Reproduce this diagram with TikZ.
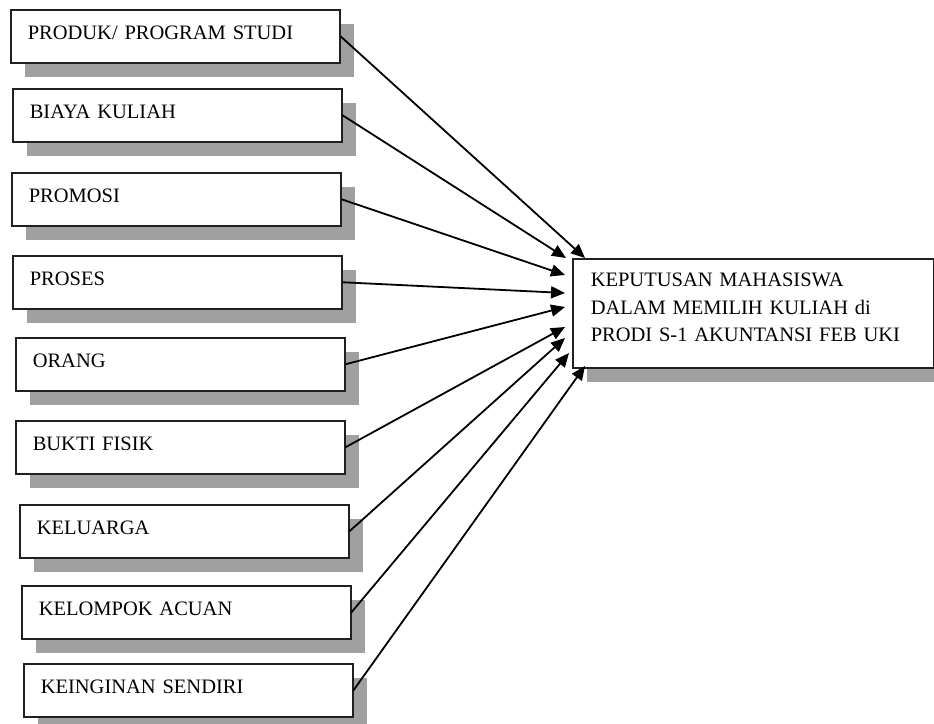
\documentclass[tikz,border=0pt]{standalone}
\usepackage{fontspec}
\setmainfont{Liberation Serif}
\usetikzlibrary{shadows,arrows.meta,calc}
\definecolor{shadowgray}{HTML}{A0A0A0}
\definecolor{edgecol}{HTML}{202020}
\tikzset{
  shad/.style={drop shadow={shadow xshift=14pt, shadow yshift=-14pt, fill=shadowgray, opacity=1}},
  factor/.style={draw=edgecol, line width=1.5pt, fill=white, shad, anchor=north west,
    minimum width=329pt, minimum height=53pt, text width=295pt, inner xsep=17pt, inner ysep=0pt,
    align=left, text height=13.5pt, text depth=8pt, font=\fontsize{20.5pt}{24pt}\selectfont},
  result/.style={draw=edgecol, line width=1.5pt, fill=white, shad, anchor=north west,
    minimum width=361pt, text width=325pt, inner xsep=18pt, inner ysep=0pt,
    align=left, text height=28pt, text depth=81pt, font=\fontsize{20.5pt}{27.5pt}\selectfont},
  conn/.style={line width=1.8pt, -{Triangle[length=14pt,width=12pt]}}
}
\begin{document}
\begin{tikzpicture}[x=1pt,y=-1pt]
\useasboundingbox (0,0) rectangle (934,723);
\clip (0,0) rectangle (934,723);
\node[factor] (f1) at (10,9) {PRODUK/ PROGRAM STUDI};
\node[factor] (f2) at (12,88) {BIAYA KULIAH};
\node[factor] (f3) at (11,172) {PROMOSI};
\node[factor] (f4) at (12,255) {PROSES};
\node[factor] (f5) at (15,337) {ORANG};
\node[factor] (f6) at (15,420) {BUKTI FISIK};
\node[factor] (f7) at (19,504) {KELUARGA};
\node[factor] (f8) at (21,585) {KELOMPOK ACUAN};
\node[factor] (f9) at (23,663) {KEINGINAN SENDIRI};
\node[result] (k) at (572,258) {KEPUTUSAN MAHASISWA\\DALAM MEMILIH KULIAH di\\PRODI S-1 AKUNTANSI FEB UKI};
\coordinate (t1) at (585,258);
\coordinate (t2) at (566,258);
\coordinate (t3) at (565,275);
\coordinate (t4) at (565,293);
\coordinate (t5) at (565,307);
\coordinate (t6) at (565,327);
\coordinate (t7) at (565,338);
\coordinate (t8) at (569,353);
\coordinate (t9) at (585,366);
\foreach \i in {1,...,9}{
  \draw[conn] (f\i.east) -- (t\i);
}
\end{tikzpicture}
\end{document}
